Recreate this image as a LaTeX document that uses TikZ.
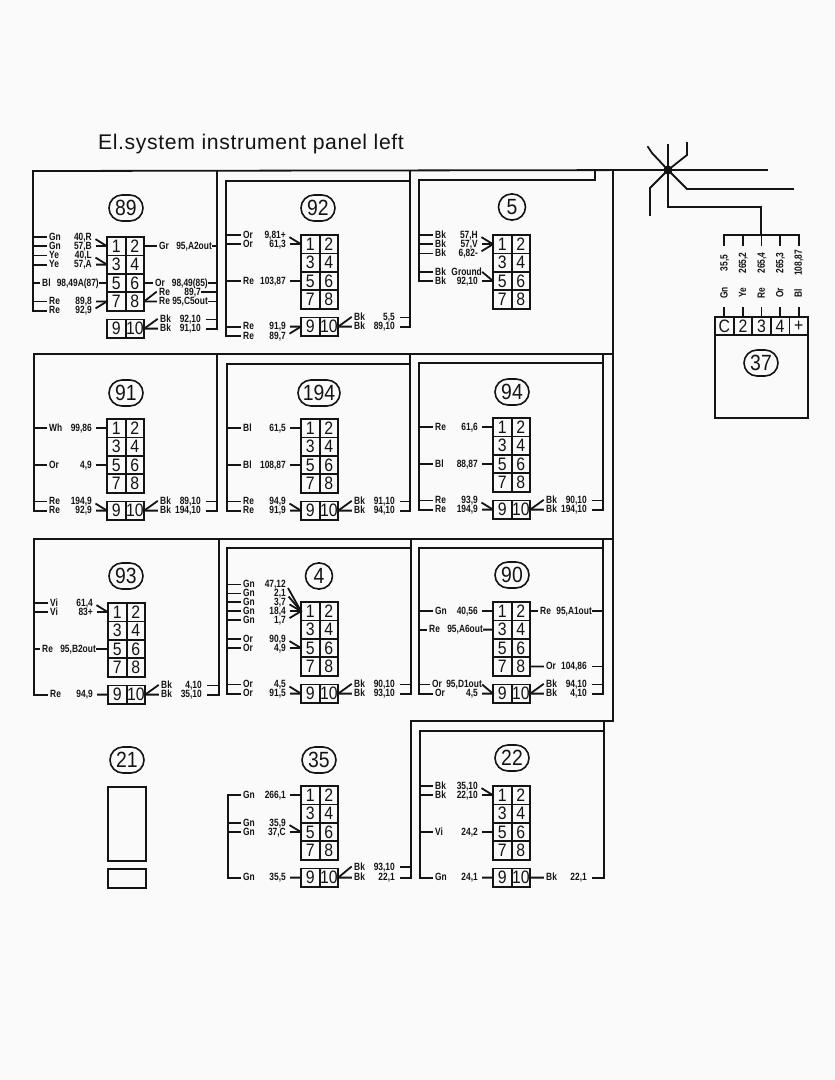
\documentclass[tikz,border=0pt]{standalone}
\usepackage{fontspec}
\usetikzlibrary{positioning, shapes.misc}
\newfontfamily\wirefont[FakeStretch=0.8]{Liberation Sans}
\newfontfamily\pinfont[FakeStretch=0.88]{Liberation Sans}
\newfontfamily\titlefont[LetterSpace=3]{Liberation Sans}
\definecolor{paper}{HTML}{FAFAFA}
\definecolor{ink}{HTML}{141414}

\tikzset{
  wire/.style={draw=ink, line width=1.8pt, line cap=rect},
  pin/.style={draw=ink, line width=1.8pt, minimum width=18.6pt, minimum height=18.4pt,
              inner sep=0pt, outer sep=0pt, text=ink,
              font=\pinfont\fontsize{18}{18}\selectfont},
  tag/.style={draw=ink, line width=1.6pt, rounded rectangle, minimum width=34pt,
              minimum height=26pt, inner sep=0pt, text=ink,
              font=\pinfont\fontsize{22}{22}\selectfont},
  hue/.style={inner xsep=3pt, inner ysep=0pt, text height=7.5pt, text depth=1pt, text=ink,
              font=\wirefont\bfseries\fontsize{10.5}{10.5}\selectfont},
  ref/.style={hue, inner xsep=0pt},
  blank/.style={draw=ink, line width=1.8pt, minimum width=38pt, inner sep=0pt}
}

% one block of pins, then its lower plug
\newcommand{\pinblock}[3]{%
  \def\bx{#2}\pgfmathsetmacro{\rx}{#2+37}%
  \node[pin] (#1p1) at (#2+9.3,#3+9.2) {1};
  \node[pin, right=0pt of #1p1] (#1p2) {2};
  \node[pin, below=0pt of #1p1] (#1p3) {3};
  \node[pin, right=0pt of #1p3] (#1p4) {4};
  \node[pin, below=0pt of #1p3] (#1p5) {5};
  \node[pin, right=0pt of #1p5] (#1p6) {6};
  \node[pin, below=0pt of #1p5] (#1p7) {7};
  \node[pin, right=0pt of #1p7] (#1p8) {8};
}
\newcommand{\lowerpins}[1]{%
  \node[pin, below=8.8pt of #1p7] (#1p9) {9};
  \node[pin, right=0pt of #1p9] (#1p10) {10};
}
% wires: name, bus x, y, colour, reference, pin
\newcommand{\lwire}[6]{%
  \coordinate (#1b) at (#2,#3);
  \node[hue, anchor=west] (#1c) at (\bx-61,#3) {#4};
  \node[ref, anchor=east] (#1r) at (\bx-15,#3) {#5};
  \draw[wire] (#1b) -- (#1c.west);
  \draw[wire, shorten <=5pt] (#1r.east) -- (#6.west);
}
\newcommand{\rwire}[6]{%
  \coordinate (#1b) at (#2,#3);
  \node[hue, anchor=west] (#1c) at (\rx+13,#3) {#4};
  \node[ref, anchor=east] (#1r) at (\rx+57,#3) {#5};
  \draw[wire] (#6.east) -- (#1c.west);
  \draw[wire, shorten <=6pt] (#1r.east) -- (#1b);
}
% the same with typed x: name, bus x, y, colour x, colour, ref x, reference, pin
\newcommand{\lwirex}[8]{%
  \coordinate (#1b) at (#2,#3);
  \node[hue, anchor=west] (#1c) at (#4,#3) {#5};
  \node[ref, anchor=east] (#1r) at (#6,#3) {#7};
  \draw[wire] (#1b) -- (#1c.west);
  \draw[wire, shorten <=1pt] (#1r.east) -- (#8.west);
}
\newcommand{\rwirex}[8]{%
  \coordinate (#1b) at (#2,#3);
  \node[hue, anchor=west] (#1c) at (#4,#3) {#5};
  \node[ref, anchor=east] (#1r) at (#6,#3) {#7};
  \draw[wire] (#8.east) -- (#1c.west);
  \draw[wire, shorten <=1pt] (#1r.east) -- (#1b);
}
% gauge wires go upwards to the bar
\newcommand{\gwire}[3]{%
  \coordinate (bar#1) at (#1gp.north |- barl);
  \node[hue, rotate=90, inner sep=0pt, minimum width=36pt] (#1gr) at (#1gp.north |- 0,263) {#3};
  \node[hue, rotate=90, inner sep=0pt, minimum width=30pt] (#1gc) at (#1gp.north |- 0,293) {#2};
  \draw[wire] (bar#1) -- (#1gr.east);
  \draw[wire] (#1gc.west) -- (#1gp.north);
}

\begin{document}
\begin{tikzpicture}[x=1pt,y=-1pt]
  \fill[paper] (0,0) rectangle (835,1080);
  \useasboundingbox (0,0) rectangle (835,1080);

  \node[text=ink, font=\titlefont\fontsize{21.2}{21.2}\selectfont] (title) at (251,144) {El.system instrument panel left};

  % star point
  \node[circle, fill=ink, inner sep=0pt, minimum size=9pt] (hub) at (668,170) {};
  \coordinate (armr) at (767,170);
  \coordinate (armu) at (668,145);
  \coordinate (armul) at (648,147);
  \coordinate (armur) at (687,143);
  \coordinate (armdl) at (650,215);
  \coordinate (armlr) at (793,189);
  \coordinate (barm) at (761,235);
  \draw[wire] (hub) -- (armr);
  \draw[wire] (hub) -- (armu);
  \draw[wire] (hub) -- (652,153) -- (armul);
  \draw[wire] (hub) -- (687,155) -- (armur);
  \draw[wire] (hub) -- (650,188) -- (armdl);
  \draw[wire] (hub) -- (687,189) -- (armlr);
  \draw[wire] (hub) -- (668,207) -- (761,207) -- (barm);

  % trunks
  \draw[wire] (hub) -- (33,171) -- (33,310.6);
  \draw[wire] (217,171) -- (217,328.6);
  \draw[wire] (410,171) -- (410,326.6);
  \draw[wire] (410,181) -- (226,181) -- (226,335.8);
  \draw[wire] (595,170) -- (595,180) -- (419,180) -- (419,281);
  \draw[wire] (613,170) -- (613,721) -- (411,721) -- (411,877.6);
  \draw[wire] (613,354) -- (34,354) -- (34,510.6);
  \draw[wire] (217,354) -- (217,510.6);
  \draw[wire] (410,354) -- (410,510.6);
  \draw[wire] (410,364) -- (227,364) -- (227,510.6);
  \draw[wire] (603,354) -- (603,509.6);
  \draw[wire] (603,363) -- (419,363) -- (419,509.6);
  \draw[wire] (613,539) -- (34,539) -- (34,694.6);
  \draw[wire] (219,539) -- (219,694.6);
  \draw[wire] (411,539) -- (411,693.6);
  \draw[wire] (411,548) -- (227,548) -- (227,693.6);
  \draw[wire] (603,539) -- (603,693.6);
  \draw[wire] (603,548) -- (419,548) -- (419,693.6);
  \draw[wire] (604,721) -- (604,877.6);
  \draw[wire] (604,731) -- (420,731) -- (420,877.6);
  \draw[wire] (228,795.2) -- (228,877.6);

  % 89
  \node[tag] (tag89) at (126,208) {89};
  \pinblock{89}{107}{237}
  \lowerpins{89}
  \lwire{a1}{33}{237}{Gn}{40,R}{89p1}
  \lwire{a2}{33}{246.2}{Gn}{57,B}{89p1}
  \lwire{a3}{33}{255.4}{Ye}{40,L}{89p3}
  \lwire{a4}{33}{264.6}{Ye}{57,A}{89p3}
  \lwirex{a5}{33}{283}{39}{Bl}{99}{98,49A(87)}{89p5}
  \lwire{a6}{33}{301.4}{Re}{89,8}{89p7}
  \lwire{a7}{33}{310.6}{Re}{92,9}{89p7}
  \rwirex{a8}{217}{246.2}{156}{Gr}{212}{95,A2out}{89p2}
  \rwirex{a9}{217}{283}{152}{Or}{208}{98,49(85)}{89p6}
  \rwirex{a10}{217}{292.2}{156}{Re}{201}{89,7}{89p8}
  \rwirex{a11}{217}{301.4}{156}{Re}{208}{95,C5out}{89p8}
  \rwire{a12}{217}{319.4}{Bk}{92,10}{89p10}
  \rwire{a13}{217}{328.6}{Bk}{91,10}{89p10}

  % 92
  \node[tag] (tag92) at (318,208) {92};
  \pinblock{92}{301}{235}
  \lowerpins{92}
  \lwire{b1}{226}{235}{Or}{9,81+}{92p1}
  \lwire{b2}{226}{244.2}{Or}{61,3}{92p1}
  \lwire{b3}{226}{281}{Re}{103,87}{92p5}
  \lwire{b4}{226}{326.6}{Re}{91,9}{92p9}
  \lwire{b5}{226}{335.8}{Re}{89,7}{92p9}
  \rwire{b6}{410}{317.4}{Bk}{5,5}{92p10}
  \rwire{b7}{410}{326.6}{Bk}{89,10}{92p10}

  % 5
  \node[tag, minimum width=27pt] (tag5) at (512,207) {5};
  \pinblock{5}{493}{235}
  \lwire{c1}{419}{235}{Bk}{57,H}{5p1}
  \lwire{c2}{419}{244.2}{Bk}{57,V}{5p1}
  \lwire{c3}{419}{253.4}{Bk}{6,82-}{5p1}
  \lwirex{c4}{419}{271.8}{432}{Bk}{482}{Ground}{5p5}
  \lwire{c5}{419}{281}{Bk}{92,10}{5p5}

  % 91
  \node[tag] (tag91) at (126,393) {91};
  \pinblock{91}{107}{419}
  \lowerpins{91}
  \lwire{d1}{34}{428.2}{Wh}{99,86}{91p1}
  \lwire{d2}{34}{465}{Or}{4,9}{91p5}
  \lwire{d3}{34}{501.4}{Re}{194,9}{91p9}
  \lwire{d4}{34}{510.6}{Re}{92,9}{91p9}
  \rwire{d5}{217}{501.4}{Bk}{89,10}{91p10}
  \rwire{d6}{217}{510.6}{Bk}{194,10}{91p10}

  % 194
  \node[tag, minimum width=42pt] (tag194) at (319,393) {194};
  \pinblock{194}{301}{419}
  \lowerpins{194}
  \lwire{e1}{227}{428.2}{Bl}{61,5}{194p1}
  \lwire{e2}{227}{465}{Bl}{108,87}{194p5}
  \lwire{e3}{227}{501.4}{Re}{94,9}{194p9}
  \lwire{e4}{227}{510.6}{Re}{91,9}{194p9}
  \rwire{e5}{410}{501.4}{Bk}{91,10}{194p10}
  \rwire{e6}{410}{510.6}{Bk}{94,10}{194p10}

  % 94
  \node[tag] (tag94) at (512,392) {94};
  \pinblock{94}{493}{418}
  \lowerpins{94}
  \lwire{f1}{419}{427.2}{Re}{61,6}{94p1}
  \lwire{f2}{419}{464}{Bl}{88,87}{94p5}
  \lwire{f3}{419}{500.4}{Re}{93,9}{94p9}
  \lwire{f4}{419}{509.6}{Re}{194,9}{94p9}
  \rwire{f5}{603}{500.4}{Bk}{90,10}{94p10}
  \rwire{f6}{603}{509.6}{Bk}{194,10}{94p10}

  % 93
  \node[tag] (tag93) at (126,576) {93};
  \pinblock{93}{108}{603}
  \lowerpins{93}
  \lwire{g1}{34}{603}{Vi}{61,4}{93p1}
  \lwire{g2}{34}{612.2}{Vi}{83+}{93p1}
  \lwirex{g3}{34}{649}{39}{Re}{96}{95,B2out}{93p5}
  \lwire{g4}{34}{694.6}{Re}{94,9}{93p9}
  \rwire{g5}{219}{685.4}{Bk}{4,10}{93p10}
  \rwire{g6}{219}{694.6}{Bk}{35,10}{93p10}

  % 4
  \node[tag, minimum width=27pt] (tag4) at (319,576) {4};
  \pinblock{4}{301}{602}
  \lowerpins{4}
  \lwire{h1}{227}{584.4}{Gn}{47,12}{4p1}
  \lwire{h2}{227}{593.4}{Gn}{2,1}{4p1}
  \lwire{h3}{227}{602.3}{Gn}{3,7}{4p1}
  \lwire{h4}{227}{611.2}{Gn}{18,4}{4p1}
  \lwire{h5}{227}{620.2}{Gn}{1,7}{4p1}
  \lwire{h6}{227}{639}{Or}{90,9}{4p5}
  \lwire{h7}{227}{648}{Or}{4,9}{4p5}
  \lwire{h8}{227}{684.4}{Or}{4,5}{4p9}
  \lwire{h9}{227}{693.6}{Or}{91,5}{4p9}
  \rwire{h10}{411}{684.4}{Bk}{90,10}{4p10}
  \rwire{h11}{411}{693.6}{Bk}{93,10}{4p10}

  % 90
  \node[tag] (tag90) at (512,575) {90};
  \pinblock{90}{493}{602}
  \lowerpins{90}
  \lwire{i1}{419}{611.2}{Gn}{40,56}{90p1}
  \lwirex{i2}{419}{629.6}{426}{Re}{483}{95,A6out}{90p3}
  \lwirex{i3}{419}{684.4}{429}{Or}{482}{95,D1out}{90p9}
  \lwire{i4}{419}{693.6}{Or}{4,5}{90p9}
  \rwirex{i5}{603}{611.2}{537}{Re}{592}{95,A1out}{90p2}
  \rwire{i6}{603}{666.4}{Or}{104,86}{90p8}
  \rwire{i7}{603}{684.4}{Bk}{94,10}{90p10}
  \rwire{i8}{603}{693.6}{Bk}{4,10}{90p10}

  % 21 has no pins
  \node[tag] (tag21) at (127,760) {21};
  \node[blank, minimum height=74pt] (box21a) at (127,824) {};
  \node[blank, minimum height=19pt] (box21b) at (127,878.5) {};

  % 35
  \node[tag] (tag35) at (319,760) {35};
  \pinblock{35}{301}{786}
  \lowerpins{35}
  \lwire{j1}{228}{795.2}{Gn}{266,1}{35p1}
  \lwire{j2}{228}{823}{Gn}{35,9}{35p5}
  \lwire{j3}{228}{832}{Gn}{37,C}{35p5}
  \lwire{j4}{228}{877.6}{Gn}{35,5}{35p9}
  \rwire{j5}{411}{867}{Bk}{93,10}{35p10}
  \rwire{j6}{411}{877.6}{Bk}{22,1}{35p10}

  % 22
  \node[tag] (tag22) at (512,758) {22};
  \pinblock{22}{493}{786}
  \lowerpins{22}
  \lwire{k1}{420}{786}{Bk}{35,10}{22p1}
  \lwire{k2}{420}{795.2}{Bk}{22,10}{22p1}
  \lwire{k3}{420}{832}{Vi}{24,2}{22p5}
  \lwire{k4}{420}{877.6}{Gn}{24,1}{22p9}
  \rwire{k5}{604}{877.6}{Bk}{22,1}{22p10}

  % 37
  \node[pin] (1gp) at (724.3,326) {C};
  \node[pin, right=0pt of 1gp] (2gp) {2};
  \node[pin, right=0pt of 2gp] (3gp) {3};
  \node[pin, right=0pt of 3gp] (4gp) {4};
  \node[pin, right=0pt of 4gp] (5gp) {+};
  \node[draw=ink, line width=1.8pt, minimum width=93pt, minimum height=83pt, inner sep=0pt, outer sep=0pt,
        anchor=north west] (box37) at (1gp.south west) {};
  \node[tag] (tag37) at (761,363) {37};
  \coordinate (barl) at (724.3,235);
  \coordinate (barr) at (798.7,235);
  \draw[wire] (barl) -- (barr);
  \gwire{1}{Gn}{35,5}
  \gwire{2}{Ye}{265,2}
  \gwire{3}{Re}{265,4}
  \gwire{4}{Or}{265,3}
  \gwire{5}{Bl}{108,87}
\end{tikzpicture}
\end{document}
